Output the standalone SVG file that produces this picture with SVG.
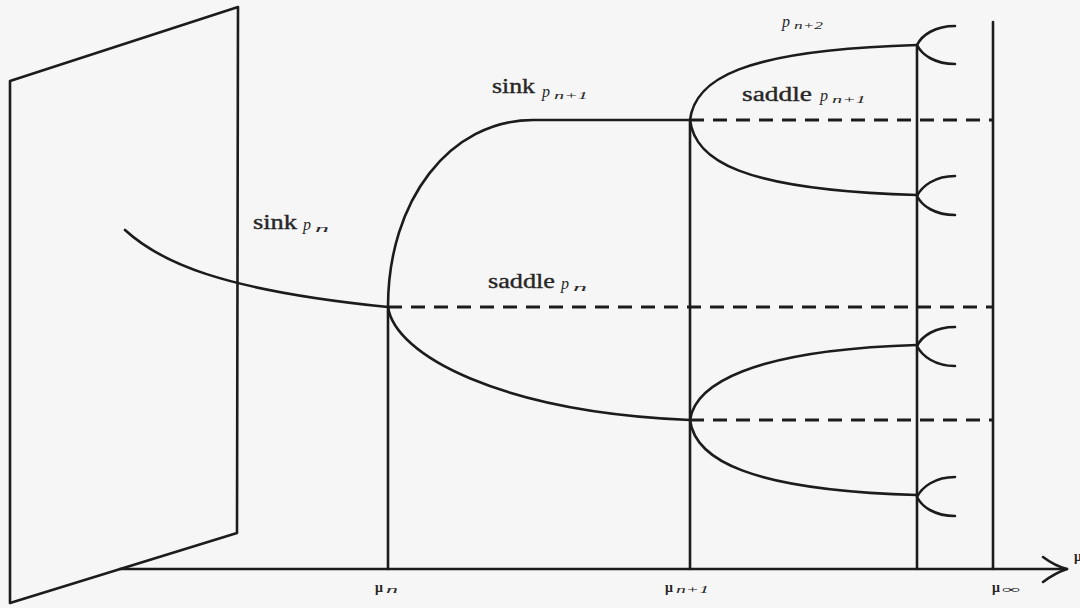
<svg xmlns="http://www.w3.org/2000/svg" width="1080" height="608" viewBox="0 0 1080 608">
<style>
.ln{fill:none;stroke:#1c1c1c;stroke-width:2.6;stroke-linecap:round;stroke-linejoin:round}
.ds{fill:none;stroke:#1c1c1c;stroke-width:2.8;stroke-dasharray:14 9}
.t{font-family:"Liberation Serif","Times New Roman",serif;fill:#262626}
.lab{font-size:20px;stroke:#262626;stroke-width:0.35}
.p{font-size:16px;font-style:italic}
.s{font-size:11px;font-style:italic}
.mu{font-size:14px;font-weight:bold}
</style>
<rect width="1080" height="608" fill="#f6f6f6"/>
<g id="plane"><path class="ln" d="M10,81 L238,7 L237,533 L10,603 Z"/></g>
<g id="axis">
<path class="ln" d="M120,569 L1067,569"/>
<path class="ln" d="M1043,557 Q1055,566 1067,569 Q1055,573 1043,582"/>
</g>
<g id="verticals">
<path class="ln" d="M388,307 L388,569"/>
<path class="ln" d="M690,120 L690,569"/>
<path class="ln" d="M917,45 L917,569"/>
<path class="ln" d="M993,22 L993,569"/>
</g>
<g id="connectors">
<path class="ln" d="M125,230 C160,262 220,290 388,307"/>
<path class="ln" d="M388,307 C388,200 450,120 533,120 L690,120"/>
<path class="ln" d="M388,307 C395,355 500,412 690,420"/>
<path class="ln" d="M690,120 C695,80 740,50 917,45"/>
<path class="ln" d="M690,120 C695,160 740,190 917,195"/>
<path class="ln" d="M690,420 C695,385 750,350 917,345"/>
<path class="ln" d="M690,420 C695,460 750,490 917,495"/>
<path class="ds" d="M388,307 L993,307"/>
<path class="ds" d="M690,120 L993,120"/>
<path class="ds" d="M690,420 L993,420"/>
</g>
<g id="forks">
<path class="ln" d="M955,26 C935,26 922,35 917,45 C922,55 935,64 955,64"/>
<path class="ln" d="M955,176 C935,176 922,186 917,196 C922,206 935,215 955,215"/>
<path class="ln" d="M955,327 C935,327 922,336 917,346 C922,356 935,366 955,366"/>
<path class="ln" d="M955,477 C935,477 922,487 917,497 C922,507 935,516 955,516"/>
</g>
<g id="labels">
<text class="t p" x="782" y="27">p</text>
<text class="t s" x="794" y="29" textLength="29" lengthAdjust="spacingAndGlyphs">n+2</text>
<text class="t lab" x="492" y="93" textLength="43" lengthAdjust="spacingAndGlyphs">sink</text>
<text class="t p" x="542" y="97">p</text>
<text class="t s" x="554" y="99" textLength="34" lengthAdjust="spacingAndGlyphs">n+1</text>
<text class="t lab" x="742" y="101" textLength="70" lengthAdjust="spacingAndGlyphs">saddle</text>
<text class="t p" x="820" y="101">p</text>
<text class="t s" x="832" y="103" textLength="34" lengthAdjust="spacingAndGlyphs">n+1</text>
<text class="t lab" x="253" y="229" textLength="44" lengthAdjust="spacingAndGlyphs">sink</text>
<text class="t p" x="303" y="230">p</text>
<text class="t s" x="315" y="232" textLength="14" lengthAdjust="spacingAndGlyphs">n</text>
<text class="t lab" x="488" y="288" textLength="67" lengthAdjust="spacingAndGlyphs">saddle</text>
<text class="t p" x="561" y="289">p</text>
<text class="t s" x="573" y="291" textLength="14" lengthAdjust="spacingAndGlyphs">n</text>
<text class="t mu" x="375" y="592">μ</text>
<text class="t s" x="386" y="593" textLength="12" lengthAdjust="spacingAndGlyphs">n</text>
<text class="t mu" x="665" y="592">μ</text>
<text class="t s" x="676" y="593" textLength="33" lengthAdjust="spacingAndGlyphs">n+1</text>
<text class="t mu" x="992" y="592">μ</text>
<text class="t s" x="1002" y="593" textLength="18" lengthAdjust="spacingAndGlyphs">∞</text>
<text class="t mu" x="1074" y="561">μ</text>
</g>
</svg>
